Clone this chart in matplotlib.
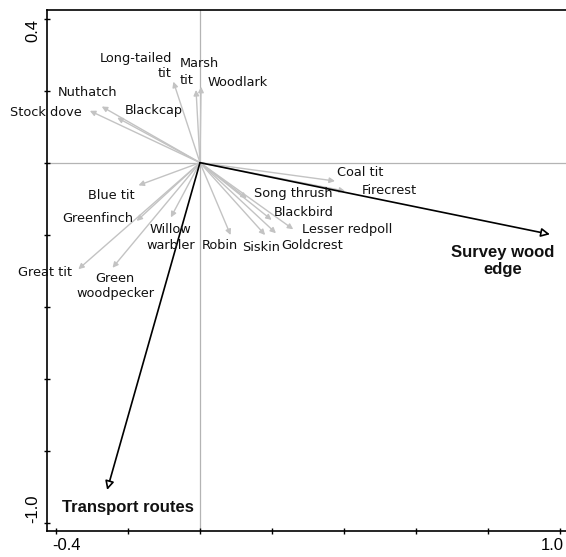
import matplotlib
matplotlib.use('Agg')
import matplotlib.pyplot as plt
import matplotlib.transforms as mtransforms

# species scores (arrow tips)
species = ['Long-tailed\ntit', 'Marsh\ntit', 'Woodlark', 'Nuthatch', 'Stock dove',
           'Blackcap', 'Blue tit', 'Greenfinch', 'Willow\nwarbler', 'Great tit',
           'Green\nwoodpecker', 'Robin', 'Coal tit', 'Firecrest', 'Song thrush',
           'Blackbird', 'Lesser redpoll', 'Siskin', 'Goldcrest']
sp_x = [-0.074, -0.011, 0.003, -0.273, -0.306, -0.230, -0.171, -0.176, -0.081, -0.338,
        -0.243, 0.085, 0.375, 0.403, 0.130, 0.199, 0.259, 0.181, 0.211]
sp_y = [0.225, 0.202, 0.211, 0.156, 0.144, 0.125, -0.063, -0.162, -0.152, -0.296,
        -0.292, -0.201, -0.051, -0.079, -0.099, -0.159, -0.185, -0.201, -0.196]

# environmental variables
env = ['Survey wood\nedge', 'Transport routes']
env_x = [0.972, -0.258]
env_y = [-0.199, -0.909]

# label placement (centre of text unless noted)
sp_lab = {
    'Long-tailed\ntit': (-0.078, 0.269, 'right'),
    'Marsh\ntit': (-0.056, 0.252, 'left'),
    'Woodlark': (0.105, 0.224, 'center'),
    'Nuthatch': (-0.311, 0.196, 'center'),
    'Stock dove': (-0.428, 0.138, 'center'),
    'Blackcap': (-0.128, 0.144, 'center'),
    'Blue tit': (-0.247, -0.090, 'center'),
    'Greenfinch': (-0.283, -0.156, 'center'),
    'Willow\nwarbler': (-0.081, -0.208, 'center'),
    'Great tit': (-0.431, -0.306, 'center'),
    'Green\nwoodpecker': (-0.236, -0.343, 'center'),
    'Robin': (0.056, -0.229, 'center'),
    'Coal tit': (0.444, -0.028, 'center'),
    'Firecrest': (0.526, -0.076, 'center'),
    'Song thrush': (0.260, -0.085, 'center'),
    'Blackbird': (0.288, -0.139, 'center'),
    'Lesser redpoll': (0.408, -0.185, 'center'),
    'Siskin': (0.169, -0.237, 'center'),
    'Goldcrest': (0.311, -0.231, 'center'),
}
env_lab = {'Survey wood\nedge': (0.842, -0.273), 'Transport routes': (-0.200, -0.959)}

fig = plt.figure(figsize=(5.66, 5.57), dpi=100)
ax = fig.add_axes([47/566, 26/557, 519/566, 521/557])
ax.set_xlim(-0.425, 1.0167)
ax.set_ylim(-1.023, 0.424)

ax.axhline(0, color='#b4b4b4', lw=0.9, zorder=1)
ax.axvline(0, color='#b4b4b4', lw=0.9, zorder=1)

for x, y in zip(sp_x, sp_y):
    ax.annotate('', xy=(x, y), xytext=(0, 0),
                arrowprops=dict(arrowstyle='-|>', color='#c3c3c3', lw=1.0,
                                mutation_scale=8, shrinkA=0, shrinkB=0))
for x, y in zip(env_x, env_y):
    ax.annotate('', xy=(x, y), xytext=(0, 0),
                arrowprops=dict(arrowstyle='-|>', fc='white', ec='black', lw=1.2,
                                mutation_scale=13, shrinkA=0, shrinkB=0))

fs = 9.3
for name in species:
    lx, ly, ha = sp_lab[name]
    if name == 'Marsh\ntit':
        # two separate lines so the box does not run into Woodlark
        ax.text(lx, ly + 0.024, 'Marsh', ha='left', va='center', fontsize=fs,
                family='DejaVu Sans', color='#111111')
        ax.text(lx, ly - 0.024, 'tit', ha='left', va='center', fontsize=fs,
                family='DejaVu Sans', color='#111111')
        continue
    ax.text(lx, ly, name, ha=ha, va='center', multialignment=ha, fontsize=fs,
            family='DejaVu Sans', color='#111111', linespacing=1.25)
for name in env:
    lx, ly = env_lab[name]
    ax.text(lx, ly, name, ha='center', va='center', fontsize=12, fontweight='bold',
            family='Liberation Sans', color='#111111', linespacing=1.2)

ax.spines['right'].set_visible(False)
for s in ['left', 'bottom', 'top']:
    ax.spines[s].set_linewidth(1.2)

xt = [-0.4, -0.2, 0.0, 0.2, 0.4, 0.6, 0.8, 1.0]
yt = [-1.0, -0.8, -0.6, -0.4, -0.2, 0.0, 0.2, 0.4]
ax.set_xticks(xt)
ax.set_yticks(yt)
ax.set_xticklabels(['-0.4', '', '', '', '', '', '', '1.0'])
ax.set_yticklabels(['-1.0', '', '', '', '', '', '', '0.4'], rotation=90, va='center')
ax.tick_params(direction='inout', length=4, width=1, labelsize=12, pad=3)
for lab in ax.get_xticklabels() + ax.get_yticklabels():
    lab.set_family('Liberation Sans')

xl = ax.get_xticklabels()
xl[0].set_ha('left')
xl[0].set_transform(xl[0].get_transform() + mtransforms.ScaledTranslation(-4/100, 0, fig.dpi_scale_trans))
xl[-1].set_ha('right')
xl[-1].set_transform(xl[-1].get_transform() + mtransforms.ScaledTranslation(4/100, 0, fig.dpi_scale_trans))
yl = ax.get_yticklabels()
yl[0].set_va('bottom')
yl[-1].set_va('top')

fig.savefig('out.png', dpi=100)
